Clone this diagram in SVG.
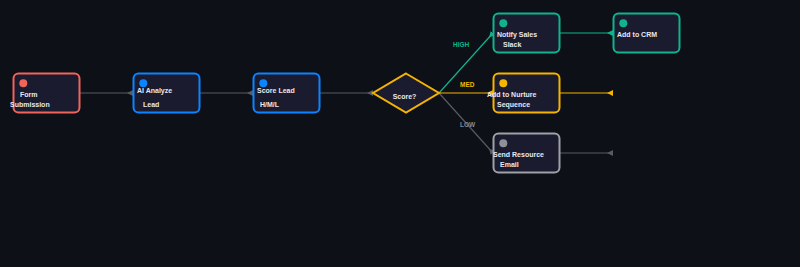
<svg xmlns="http://www.w3.org/2000/svg" width="800" height="267" viewBox="0 0 800 267">
<defs>
<style>
.n{fill:#1b1b2f;stroke-width:2}
.t{font-family:"Liberation Sans",Arial,sans-serif;font-size:7px;font-weight:bold;fill:#e8e8ee}
.l{font-family:"Liberation Sans",Arial,sans-serif;font-size:6.5px;font-weight:bold}
.e{fill:none;stroke-width:1.2}
</style>
<marker id="mg" viewBox="0 0 6 6" refX="6" refY="3" markerWidth="6" markerHeight="6" markerUnits="userSpaceOnUse" orient="auto"><path d="M6,0 L0,3 L6,6 z" fill="#5a5a62"/></marker>
<marker id="mt" viewBox="0 0 6 6" refX="6" refY="3" markerWidth="6" markerHeight="6" markerUnits="userSpaceOnUse" orient="auto"><path d="M6,0 L0,3 L6,6 z" fill="#10b48c"/></marker>
<marker id="mo" viewBox="0 0 6 6" refX="6" refY="3" markerWidth="6" markerHeight="6" markerUnits="userSpaceOnUse" orient="auto"><path d="M6,0 L0,3 L6,6 z" fill="#f5b400"/></marker>
</defs>
<rect width="800" height="267" fill="#0d1017"/>
<g id="connectors">
<line class="e" x1="80" y1="93" x2="133" y2="93" stroke="#5a5a62" marker-end="url(#mg)"/>
<line class="e" x1="200" y1="93" x2="253" y2="93" stroke="#5a5a62" marker-end="url(#mg)"/>
<line class="e" x1="320" y1="93" x2="373" y2="93" stroke="#5a5a62" marker-end="url(#mg)"/>
<line class="e" x1="439" y1="93" x2="493" y2="33" stroke="#10b48c" marker-end="url(#mt)"/>
<line class="e" x1="439" y1="93" x2="493" y2="93" stroke="#f5b400" marker-end="url(#mo)"/>
<line class="e" x1="439" y1="93" x2="493" y2="153" stroke="#5a5a62" marker-end="url(#mg)"/>
<line class="e" x1="560" y1="33" x2="613" y2="33" stroke="#10b48c" marker-end="url(#mt)"/>
<line class="e" x1="560" y1="93" x2="613" y2="93" stroke="#f5b400" marker-end="url(#mo)"/>
<line class="e" x1="560" y1="153" x2="613" y2="153" stroke="#5a5a62" marker-end="url(#mg)"/>
<text class="l" x="453" y="46.5" fill="#10b48c">HIGH</text>
<text class="l" x="460" y="86.5" fill="#f5b400">MED</text>
<text class="l" x="460" y="126.5" fill="#8a8a92">LOW</text>
</g>
<g id="form">
<rect class="n" x="13.5" y="73.5" width="66" height="39" rx="5" stroke="#f0645a"/>
<circle cx="23.3" cy="83.3" r="4" fill="#f0645a"/>
<text class="t" x="20" y="97">Form</text>
<text class="t" x="10" y="107">Submission</text>
</g>
<g id="analyze">
<rect class="n" x="133.5" y="73.5" width="66" height="39" rx="5" stroke="#0a84ff"/>
<circle cx="143.3" cy="83.3" r="4" fill="#0a84ff"/>
<text class="t" x="137" y="93.2">AI Analyze</text>
<text class="t" x="143" y="107">Lead</text>
</g>
<g id="score">
<rect class="n" x="253.5" y="73.5" width="66" height="39" rx="5" stroke="#0a84ff"/>
<circle cx="263.3" cy="83.3" r="4" fill="#0a84ff"/>
<text class="t" x="257" y="93.2">Score Lead</text>
<text class="t" x="260" y="107">H/M/L</text>
</g>
<g id="decision">
<polygon points="406,73.5 439,93 406,112.5 373,93" fill="#1b1b2f" stroke="#f5b400" stroke-width="2"/>
<text class="t" x="404.5" y="98.5" text-anchor="middle">Score?</text>
</g>
<g id="notify">
<rect class="n" x="493.5" y="13.5" width="66" height="39" rx="5" stroke="#10b48c"/>
<circle cx="503.3" cy="23.3" r="4" fill="#10b48c"/>
<text class="t" x="497" y="37.2">Notify Sales</text>
<text class="t" x="503" y="47">Slack</text>
</g>
<g id="crm">
<rect class="n" x="613.5" y="13.5" width="66" height="39" rx="5" stroke="#10b48c"/>
<circle cx="623.3" cy="23.3" r="4" fill="#10b48c"/>
<text class="t" x="617" y="37.2">Add to CRM</text>
</g>
<g id="nurture">
<rect class="n" x="493.5" y="73.5" width="66" height="39" rx="5" stroke="#f5b400"/>
<circle cx="503.3" cy="83.3" r="4" fill="#f5b400"/>
<text class="t" x="487" y="97.2">Add to Nurture</text>
<text class="t" x="497" y="107">Sequence</text>
</g>
<g id="resource">
<rect class="n" x="493.5" y="133.5" width="66" height="39" rx="5" stroke="#a0a0a8"/>
<circle cx="503.3" cy="143.3" r="4" fill="#909098"/>
<text class="t" x="493" y="157">Send Resource</text>
<text class="t" x="500" y="167">Email</text>
</g>
</svg>
